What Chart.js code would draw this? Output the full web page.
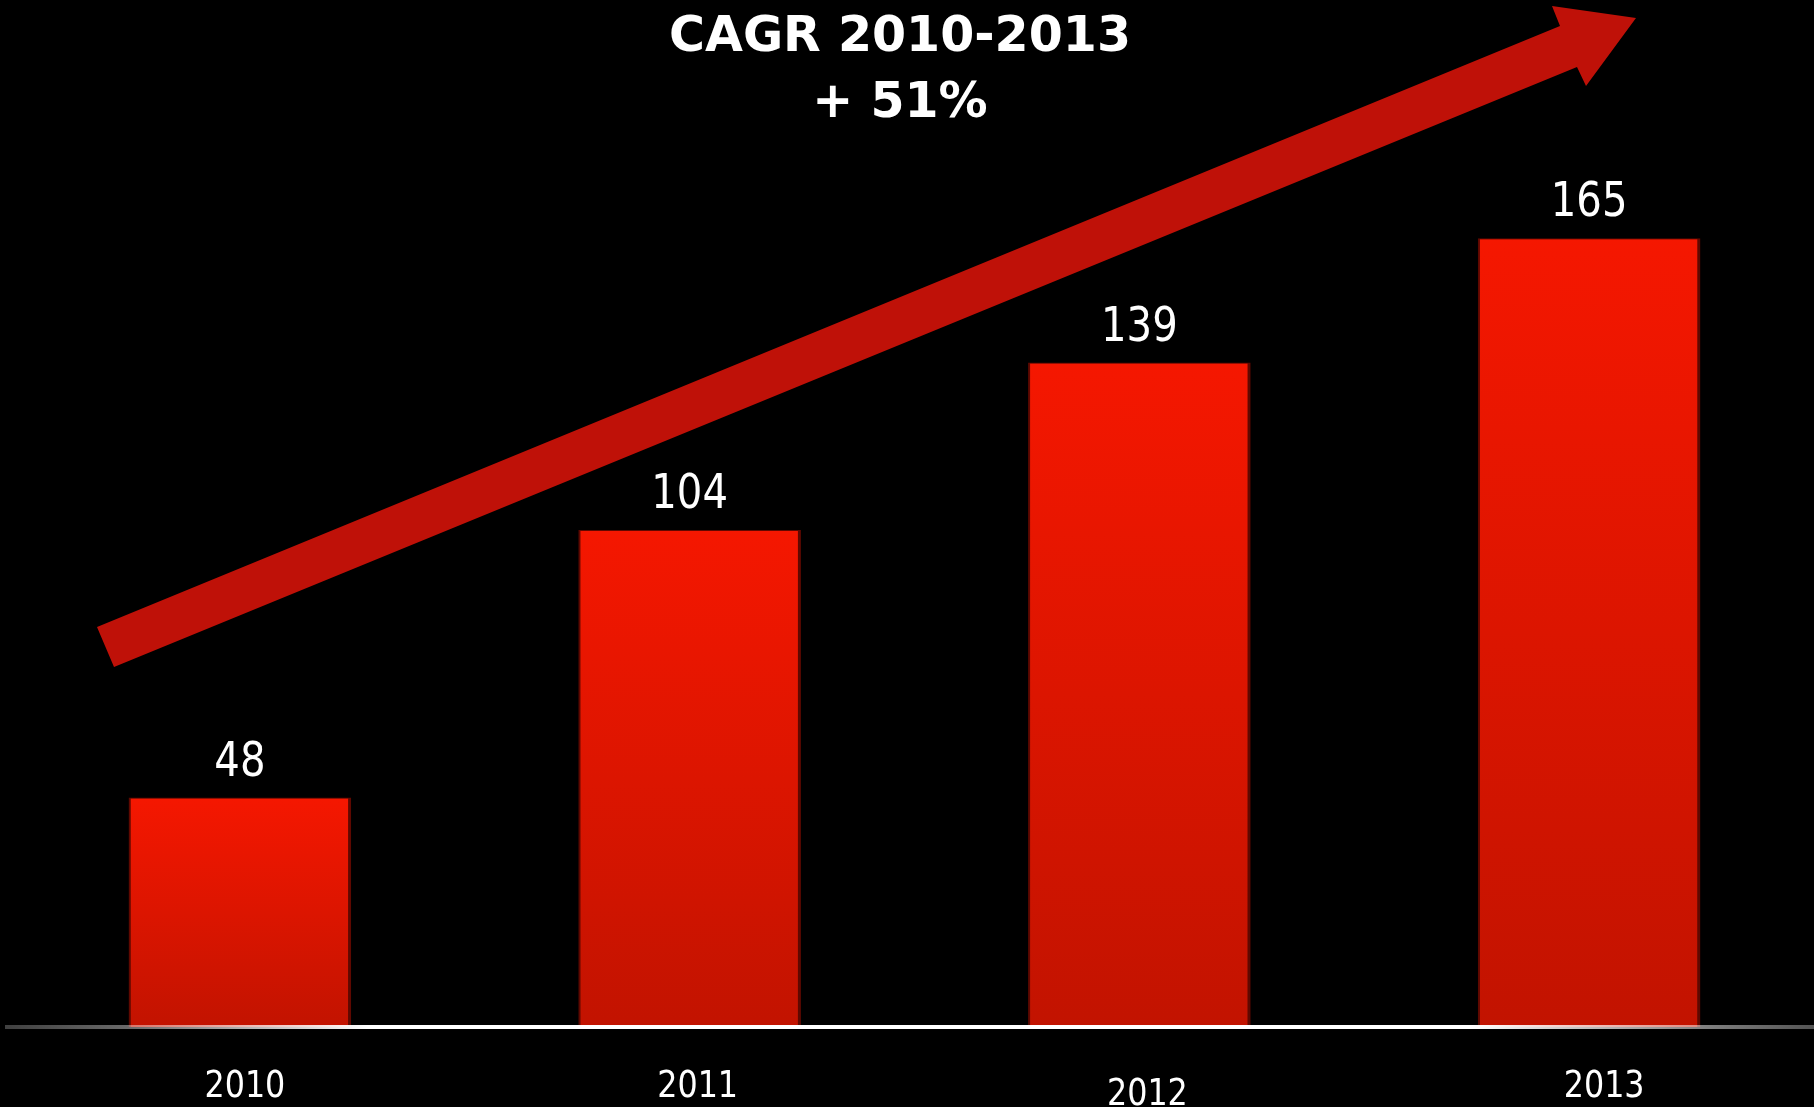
<!DOCTYPE html>
<html>
<head>
<meta charset="utf-8">
<script src="https://cdn.jsdelivr.net/npm/chart.js@4/dist/chart.umd.min.js"></script>
<style>
  html, body { margin: 0; padding: 0; background: #000; }
  #wrap { width: 1814px; height: 1107px; }
</style>
</head>
<body>
<div id="wrap"><canvas id="growth" width="1814" height="1107"></canvas></div>
<script>
(function () {
  'use strict';

  var YEARS   = ['2010', '2011', '2012', '2013'];
  var VALUES  = [48, 104, 139, 165];
  var HEADING = ['CAGR 2010-2013', '+ 51%'];
  var Y_MAX   = 200;

  var NUM_FONT  = "48px 'DejaVu Sans Condensed', 'DejaVu Sans', sans-serif";
  var TICK_FONT = "38px 'DejaVu Sans Condensed', 'DejaVu Sans', sans-serif";
  var HEAD_FONT = "bold 49px 'DejaVu Sans', sans-serif";

  // scriptable so each bar keeps its own options object
  function barFill(c) { return '#dc1400'; }

  // narrow text: draw with a small horizontal squeeze
  function squeezed(ctx, text, x, y, sx) {
    ctx.save();
    ctx.translate(x, y);
    ctx.scale(sx, 1);
    ctx.fillText(text, 0, 0);
    ctx.restore();
  }

  var backdrop = {
    id: 'backdrop',
    beforeDraw: function (chart) {
      var ctx = chart.ctx;
      ctx.save();
      ctx.fillStyle = '#000';
      ctx.fillRect(0, 0, chart.width, chart.height);
      ctx.restore();
    }
  };

  // the rising trend arrow above the bars
  var trendArrow = {
    id: 'trendArrow',
    beforeDatasetsDraw: function (chart) {
      var ctx = chart.ctx;
      ctx.save();
      ctx.fillStyle = '#bf1108';
      ctx.beginPath();
      ctx.moveTo(97, 627);
      ctx.lineTo(1560, 26);
      ctx.lineTo(1552, 6);
      ctx.lineTo(1636, 18);
      ctx.lineTo(1586, 86);
      ctx.lineTo(1577, 67);
      ctx.lineTo(114, 667);
      ctx.closePath();
      ctx.fill();
      ctx.restore();

      // vertical shading on each bar, top bright to bottom dark
      chart.getDatasetMeta(0).data.forEach(function (bar) {
        if (!isFinite(bar.y) || !isFinite(bar.base)) return;
        var g = ctx.createLinearGradient(0, bar.y, 0, bar.base);
        g.addColorStop(0, '#f51700');
        g.addColorStop(0.5, '#dc1500');
        g.addColorStop(1, '#c21300');
        bar.options.backgroundColor = g;
      });
    }
  };

  var annotate = {
    id: 'annotate',
    afterDatasetsDraw: function (chart) {
      var ctx = chart.ctx;
      var bars = chart.getDatasetMeta(0).data;

      // baseline, fading out towards both ends
      var base = chart.scales.y.getPixelForValue(0);
      var lg = ctx.createLinearGradient(5, 0, chart.width, 0);
      lg.addColorStop(0, 'rgba(255,255,255,0.25)');
      lg.addColorStop(0.07, 'rgba(255,255,255,0.42)');
      lg.addColorStop(0.2, 'rgba(255,255,255,1)');
      lg.addColorStop(0.81, 'rgba(255,255,255,1)');
      lg.addColorStop(0.94, 'rgba(255,255,255,0.5)');
      lg.addColorStop(1, 'rgba(255,255,255,0.33)');
      ctx.save();
      ctx.fillStyle = lg;
      ctx.fillRect(5, base - 2, chart.width - 5, 4);
      ctx.restore();

      ctx.save();
      ctx.fillStyle = '#fff';
      ctx.textAlign = 'center';
      ctx.textBaseline = 'alphabetic';

      // value above each bar
      ctx.font = NUM_FONT;
      bars.forEach(function (bar, i) {
        squeezed(ctx, String(VALUES[i]), bar.x, bar.y - 22, 0.93);
      });

      // year under each bar
      ctx.font = TICK_FONT;
      var drop = [0, 0, 8, 0];
      var nudge = [5, 8, 8, 15];
      bars.forEach(function (bar, i) {
        squeezed(ctx, YEARS[i], bar.x + nudge[i], 1097 + drop[i], 0.93);
      });

      // heading
      ctx.font = HEAD_FONT;
      HEADING.forEach(function (line, i) {
        ctx.fillText(line, 900, 51 + i * 66);
      });
      ctx.restore();
    }
  };

  new Chart(document.getElementById('growth'), {
    type: 'bar',
    data: {
      labels: YEARS,
      datasets: [{
        data: VALUES,
        backgroundColor: barFill,
        borderColor: 'rgba(135,12,0,0.7)',
        borderWidth: { top: 1, left: 2, right: 3, bottom: 0 },
        borderSkipped: false,
        barPercentage: 0.495,
        categoryPercentage: 1
      }]
    },
    options: {
      responsive: false,
      animation: false,
      layout: { padding: { left: 15, right: 0, top: 71, bottom: 80 } },
      plugins: {
        legend: { display: false },
        tooltip: { enabled: false }
      },
      scales: {
        x: { display: false },
        y: { display: false, min: 0, max: Y_MAX }
      }
    },
    plugins: [backdrop, trendArrow, annotate]
  });
})();
</script>
</body>
</html>
